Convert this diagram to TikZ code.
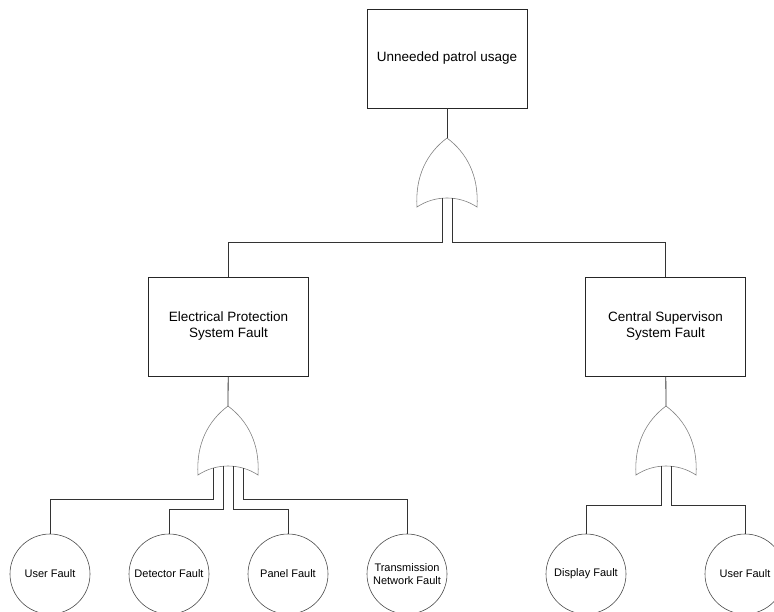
\documentclass[tikz,border=0pt]{standalone}
\usepackage{fontspec}
\setmainfont{Liberation Sans}
\tikzset{
  event/.style={draw=black!85,line width=0.8pt,minimum width=160pt,minimum height=99pt,
    align=center,font=\fontsize{13.5}{16}\selectfont},
  basic/.style={circle,draw=black!70,line width=0.6pt,minimum size=80pt,inner sep=0pt,
    align=center,font=\fontsize{11}{12.5}\selectfont},
  link/.style={draw=black!80,line width=0.8pt},
  orgate/.pic={
    \draw[black!50,line width=0.6pt](0,0) .. controls (-20,15) and (-32,38) .. (-30,69)
      .. controls (-12,57) and (12,57) .. (30,69) .. controls (32,38) and (20,15) .. (0,0);
    \coordinate(-tip) at (0,0);
    \coordinate(-a) at (-15,62);
    \coordinate(-b) at (-5,60.2);
    \coordinate(-c) at (5,60.2);
    \coordinate(-d) at (15,62);
  }
}
\begin{document}
\begin{tikzpicture}[x=1pt,y=-1pt]
\useasboundingbox(0,0)rectangle(774,611);
\clip(0,0)rectangle(774,611);
%events
\node[event](top)at(447,58.5){Unneeded patrol usage};
\node[event](ep)at(228.5,326.5){Electrical Protection\\System Fault};
\node[event](cs)at(665.5,326.5){Central Supervison\\System Fault};
%gates
\pic(g1)at(447,138){orgate};
\pic(g2)at(228,406){orgate};
\pic(g3)at(666,406){orgate};
%basic events
\node[basic](uf)at(50,574){User Fault};
\node[basic](df)at(169,574){Detector Fault};
\node[basic](pf)at(288,574){Panel Fault};
\node[basic](tn)at(407,574){Transmission\\Network Fault};
\node[basic](sf)at(586,574){Display Fault};
\node[basic](uf2)at(745,574){User Fault};
%links
\draw[link](top)--(g1-tip);
\draw[link](g1-b)--++(0,43.8)-|(ep);
\draw[link](g1-c)--++(0,43.8)-|(cs);
\draw[link](ep)--(g2-tip);
\draw[link](g2-a)--++(0,31)-|(uf);
\draw[link](g2-b)--++(0,42.8)-|(df);
\draw[link](g2-c)--++(0,42.8)-|(pf);
\draw[link](g2-d)--++(0,31)-|(tn);
\draw[link](cs)--(g3-tip);
\draw[link](g3-b)--++(0,38.8)-|(sf);
\draw[link](g3-c)--++(0,38.8)-|(uf2);
\end{tikzpicture}
\end{document}
